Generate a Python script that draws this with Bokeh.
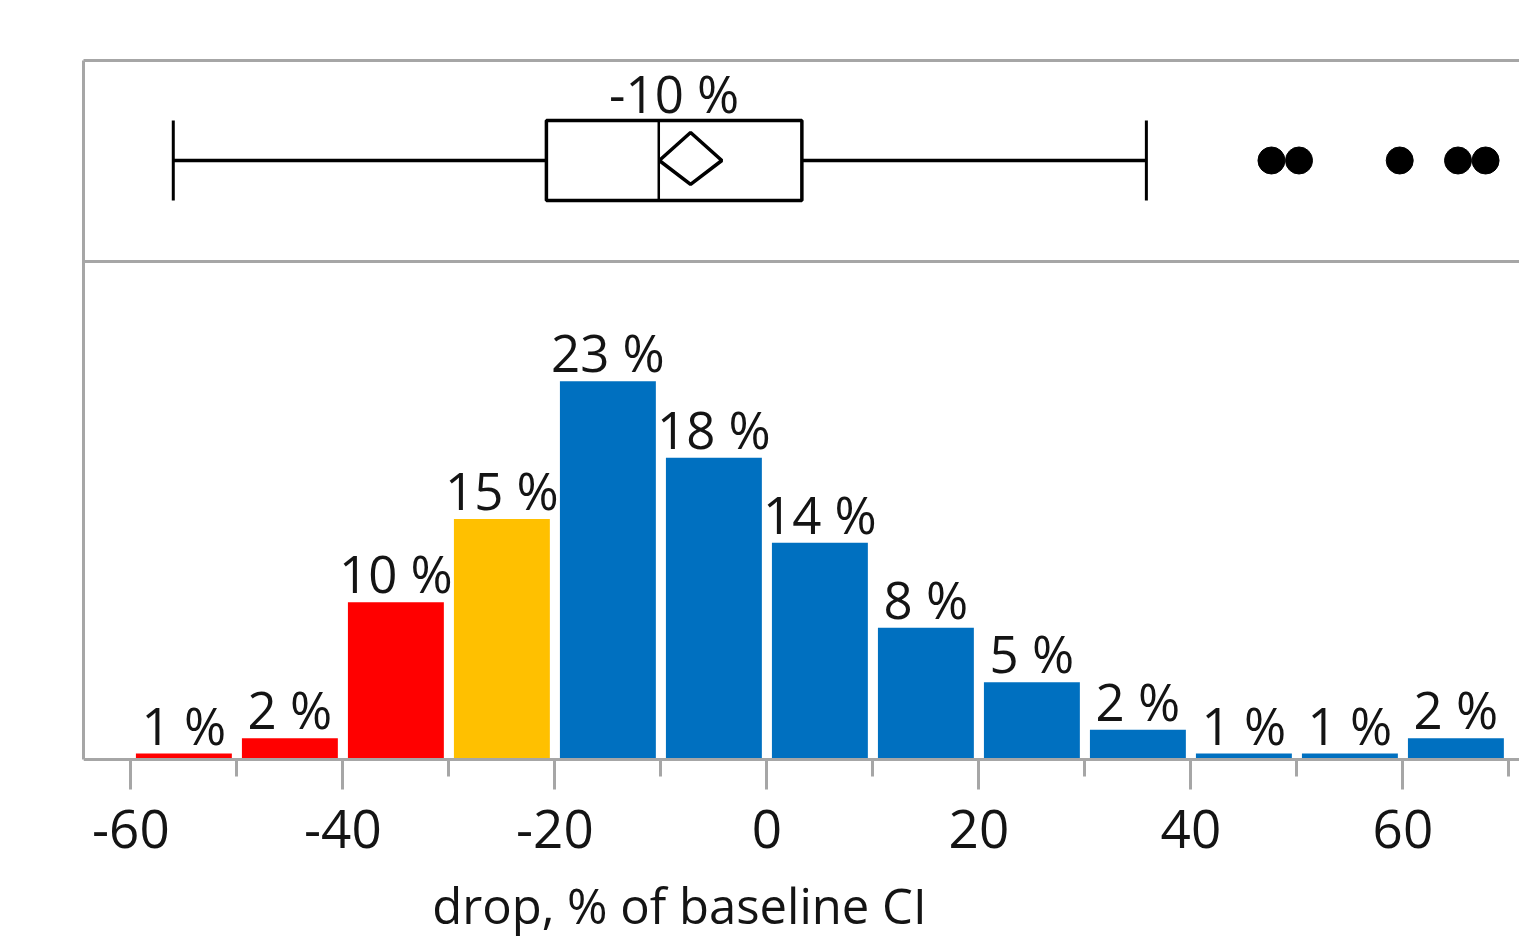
from bokeh.plotting import figure
from bokeh.models import Range1d, LinearAxis, FixedTicker, Span
from bokeh.core.properties import value
from bokeh.embed import file_html
from bokeh.resources import INLINE

# ---- data ----
bin_left = [-60, -50, -40, -30, -20, -10, 0, 10, 20, 30, 40, 50, 60]
bin_pct = [1.0, 1.9, 9.9, 14.8, 22.9, 18.4, 13.4, 8.4, 5.2, 2.4, 1.0, 1.0, 1.9]
bin_labels = ["1 %", "2 %", "10 %", "15 %", "23 %", "18 %", "14 %", "8 %", "5 %", "2 %", "1 %", "1 %", "2 %"]
bin_group = ["low", "low", "low", "mid", "high", "high", "high", "high", "high", "high", "high", "high", "high"]

whisker_low = -56.0
q1 = -20.8
median = -10.2
mean = -7.2
q3 = 3.3
whisker_high = 35.8
outliers = [47.6, 50.2, 59.7, 65.2, 67.8]
median_label = "-10 %"

tick_values = [-60, -40, -20, 0, 20, 40, 60]
tick_labels = ["-60", "-40", "-20", "0", "20", "40", "60"]
minor_tick_values = [-50, -30, -10, 10, 30, 50, 70]

x_label = "drop, % of baseline CI"

# ---- styles ----
group_colors = {"low": "#FF0000", "mid": "#FFC000", "high": "#0070C0"}
FONT_NAME = "Open Sans"
FONT = value(FONT_NAME)
GRAY = "#A6A6A6"
TXT = "#141414"
BIN_W = 10
Y0 = 0.65          # value axis starts here (histogram baseline)
Y_TOP = 41.77
PX_PER_UNIT = 17.0
BOTTOM_PX = 182    # space below the histogram baseline

centers = [b + BIN_W / 2 for b in bin_left]
colors = [group_colors[g] for g in bin_group]

p = figure(width=1519, height=941,
           x_range=Range1d(-64.47, 71.0),
           y_range=Range1d(Y0 - BOTTOM_PX / PX_PER_UNIT, Y_TOP),
           output_backend="svg", toolbar_location=None,
           min_border_left=83, min_border_right=0, min_border_top=60, min_border_bottom=0)
p.extra_y_ranges = {"box": Range1d(0, 1)}
p.outline_line_color = None
p.grid.visible = False
p.background_fill_color = "white"
p.border_fill_color = "white"

# histogram
p.vbar(x=centers, width=9.05, bottom=Y0, top=bin_pct, fill_color=colors, line_color=None)
p.text(x=centers, y=bin_pct, text=bin_labels, text_align="center", text_baseline="middle",
       y_offset=-29, text_font=FONT, text_font_size="51px", text_color=TXT)

# box plot (upper panel), positions in the 0..1 "box" range (frame fraction)
BOX_B, BOX_T, BOX_C = 0.8411, 0.9319, 0.8865
DIA_T, DIA_B = 0.9183, 0.8593
SEP = 0.7718
p.segment(x0=[whisker_low, q3], y0=[BOX_C, BOX_C], x1=[q1, whisker_high], y1=[BOX_C, BOX_C],
          line_color="black", line_width=3.5, y_range_name="box")
p.segment(x0=[whisker_low, whisker_high], y0=[BOX_B, BOX_B], x1=[whisker_low, whisker_high], y1=[BOX_T, BOX_T],
          line_color="black", line_width=3, y_range_name="box")
p.quad(left=[q1], right=[q3], bottom=[BOX_B], top=[BOX_T], fill_color="white",
       line_color="black", line_width=3.5, y_range_name="box")
p.segment(x0=[median], y0=[BOX_B], x1=[median], y1=[BOX_T], line_color="black", line_width=2.5,
          y_range_name="box")
dx = 2.95
p.patch(x=[mean - dx, mean, mean + dx, mean], y=[BOX_C, DIA_T, BOX_C, DIA_B], fill_color="white",
        line_color="black", line_width=3.5, y_range_name="box")
p.scatter(x=outliers, y=[BOX_C] * len(outliers), size=27, marker="circle", fill_color="black",
          line_color="black", y_range_name="box")
p.text(x=[(q1 + q3) / 2], y=[BOX_T], text=[median_label], text_align="center", text_baseline="middle",
       y_offset=-27, text_font=FONT, text_font_size="51px", text_color=TXT, y_range_name="box")

# panel separator
p.add_layout(Span(location=SEP, dimension="width", y_range_name="box", line_color=GRAY, line_width=3))

# x axis, drawn at the histogram baseline
xa = p.xaxis[0]
xa.fixed_location = Y0
xa.ticker = FixedTicker(ticks=tick_values, minor_ticks=minor_tick_values)
xa.major_label_overrides = {v: s for v, s in zip(tick_values, tick_labels)}
xa.major_tick_out = 30
xa.major_tick_in = 0
xa.minor_tick_out = 17
xa.minor_tick_in = 0
xa.major_tick_line_color = GRAY
xa.major_tick_line_width = 3
xa.minor_tick_line_color = GRAY
xa.minor_tick_line_width = 3
xa.axis_line_color = GRAY
xa.axis_line_width = 3
xa.major_label_text_font = FONT_NAME
xa.major_label_text_font_size = "53px"
xa.major_label_text_color = TXT
xa.major_label_standoff = 20

# left border as axis (only down to the baseline)
ya = p.yaxis[0]
ya.ticker = FixedTicker(ticks=[])
ya.bounds = (Y0, Y_TOP)
ya.major_label_text_font_size = "0px"
ya.major_tick_line_color = None
ya.minor_tick_line_color = None
ya.axis_line_color = GRAY
ya.axis_line_width = 3

# top border as axis
top = LinearAxis(ticker=FixedTicker(ticks=[]), major_label_text_font_size="0px",
                 major_tick_line_color=None, minor_tick_line_color=None,
                 axis_line_color=GRAY, axis_line_width=3)
p.add_layout(top, "above")

# axis title
p.text(x=[-8.25], y=[Y0], text=[x_label], text_align="center", text_baseline="middle",
       y_offset=145, text_font=FONT, text_font_size="49px", text_color=TXT)

open("out.html", "w").write(file_html(p, INLINE))
